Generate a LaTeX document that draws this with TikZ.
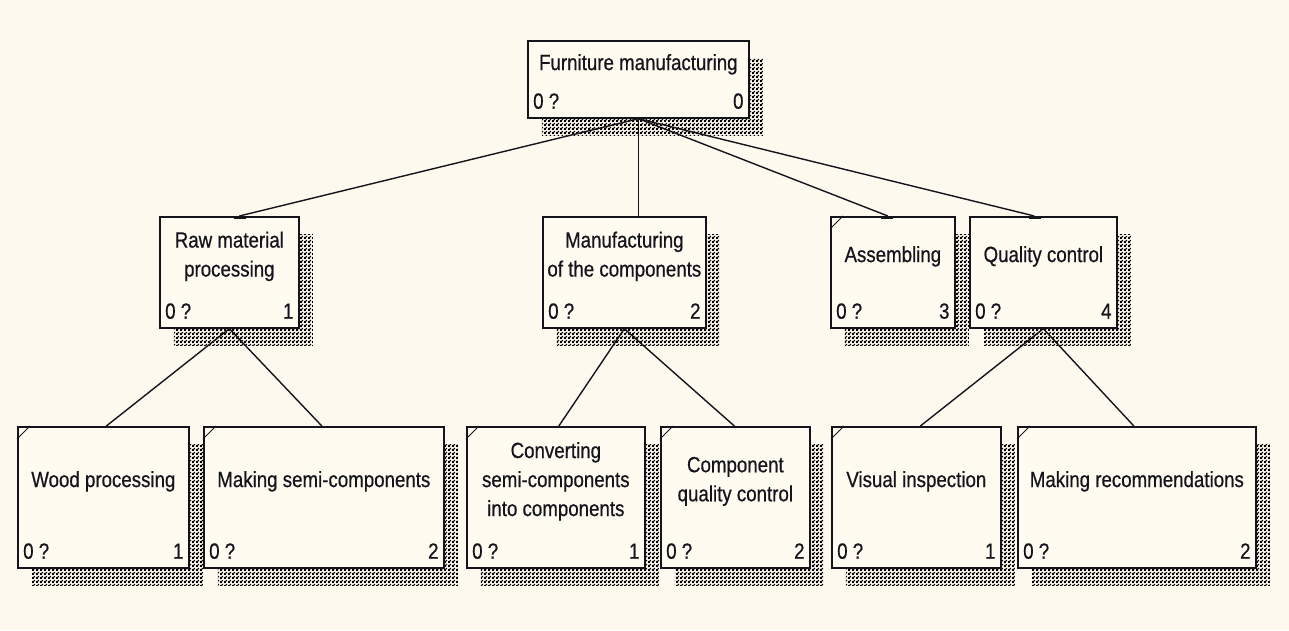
\documentclass[tikz,border=0pt]{standalone}
\usepackage{fontspec}
\usetikzlibrary{shadows,patterns.meta,calc}
\newfontfamily\ideffont[FakeStretch=0.85,FakeBold=0.6]{Liberation Sans}
\definecolor{bgc}{RGB}{253,249,238}
\definecolor{boxc}{RGB}{255,251,241}
\definecolor{inkc}{RGB}{20,20,28}
\tikzdeclarepattern{
  name=idefdots,
  type=uncolored,
  bottom left={(0pt,0pt)},
  top right={(4pt,4pt)},
  tile size={(4pt,4pt)},
  code={
    \fill (0pt,0pt) rectangle (2.4pt,2.4pt);
    \fill (2pt,2pt) rectangle (4pt,4pt);
    \fill (0pt,3.6pt) rectangle (0.4pt,4pt);
    \fill (3.6pt,0pt) rectangle (4pt,0.4pt);
  }
}
\begin{document}
\begin{tikzpicture}[x=1pt,y=-1pt,
  idefbox/.style={draw=inkc, line width=1.7pt, fill=boxc, rectangle, inner sep=0pt,
    anchor=north west,
    general shadow={shadow xshift=14pt, shadow yshift=-18pt, draw=none,
      pattern=idefdots, pattern color=black}},
  idtitle/.style={font=\ideffont\fontsize{22}{29}\selectfont, text=inkc, align=center, inner sep=0pt},
  idnum/.style={font=\ideffont\fontsize{22}{29}\selectfont, text=inkc, inner sep=0pt},
  link/.style={draw=inkc, line width=1.4pt},
  tick/.style={draw=inkc, line width=1pt},
  joinbar/.style={draw=inkc, line width=3pt}
]
\fill[bgc] (0,0) rectangle (1289,630);
\useasboundingbox (0,0) rectangle (1289,630);

% level 0
\node[idefbox, minimum width=221pt, minimum height=77pt] (root) at (527,40) {};
% level 1
\node[idefbox, minimum width=139pt, minimum height=111pt] (raw) at (159,216) {};
\node[idefbox, minimum width=163pt, minimum height=111pt] (mfg) at (542,216) {};
\node[idefbox, minimum width=124pt, minimum height=111pt] (asm) at (830,216) {};
\node[idefbox, minimum width=147pt, minimum height=111pt] (qc) at (969,216) {};
% level 2
\node[idefbox, minimum width=171pt, minimum height=141pt] (wood) at (17,426) {};
\node[idefbox, minimum width=240pt, minimum height=141pt] (semi) at (203,426) {};
\node[idefbox, minimum width=178pt, minimum height=141pt] (conv) at (466,426) {};
\node[idefbox, minimum width=149pt, minimum height=141pt] (cqc) at (660,426) {};
\node[idefbox, minimum width=169pt, minimum height=141pt] (vis) at (831,426) {};
\node[idefbox, minimum width=238pt, minimum height=141pt] (rec) at (1017,426) {};

% titles
\node[idtitle] (rootT) at ([yshift=15pt]root.center) {Furniture manufacturing};
\node[idtitle] (rawT) at ([yshift=16pt]raw.center) {Raw material\\processing};
\node[idtitle] (mfgT) at ([yshift=16pt]mfg.center) {Manufacturing\\of the components};
\node[idtitle] (asmT) at ([yshift=16pt]asm.center) {Assembling};
\node[idtitle] (qcT) at ([yshift=16pt]qc.center) {Quality control};
\node[idtitle] (woodT) at ([yshift=16pt]wood.center) {Wood processing};
\node[idtitle] (semiT) at ([yshift=16pt]semi.center) {Making semi-components};
\node[idtitle] (convT) at ([yshift=16pt]conv.center) {Converting\\semi-components\\into components};
\node[idtitle] (cqcT) at ([yshift=16pt]cqc.center) {Component\\quality control};
\node[idtitle] (visT) at ([yshift=16pt]vis.center) {Visual inspection};
\node[idtitle] (recT) at ([yshift=16pt]rec.center) {Making recommendations};

% numbers
\foreach \b/\n in {root/0,raw/1,mfg/2,asm/3,qc/4,wood/1,semi/2,conv/1,cqc/2,vis/1,rec/2}{
  \node[idnum, anchor=base west] (\b L) at ([xshift=6pt,yshift=10pt]\b.south west) {0 ?};
  \node[idnum, anchor=base east] (\b R) at ([xshift=-6pt,yshift=10pt]\b.south east) {\n};
}

% corner ticks
\foreach \b in {asm,wood,semi,conv,cqc,vis,rec}{
  \draw[tick] ([yshift=-13pt]\b.north west) -- ([xshift=13pt]\b.north west);
}

% connectors
\coordinate (rawIn) at ([xshift=10pt]raw.north);
\coordinate (asmIn) at ([xshift=-5pt]asm.north);
\coordinate (qcIn) at ([xshift=-9pt]qc.north);
\draw[link] (root.south) -- (rawIn);
\draw[link] (root.south) -- (root.south |- mfg.north);
\draw[link] (root.south) -- (asmIn);
\draw[link] (root.south) -- (qcIn);
\draw[joinbar] ([xshift=-5pt,yshift=-1.5pt]rawIn) -- ([xshift=7pt,yshift=-1.5pt]rawIn);
\draw[joinbar] ([xshift=-7pt,yshift=-1.5pt]asmIn) -- ([xshift=5pt,yshift=-1.5pt]asmIn);
\draw[joinbar] ([xshift=-5pt,yshift=-1.5pt]qcIn) -- ([xshift=7pt,yshift=-1.5pt]qcIn);
\draw[link] (raw.south) -- ([xshift=3pt]wood.north);
\draw[link] (raw.south) -- ([xshift=-2pt]semi.north);
\draw[link] (mfg.south) -- ([xshift=3pt]conv.north);
\draw[link] (mfg.south) -- ([xshift=-1pt]cqc.north);
\draw[link] (qc.south) -- ([xshift=4pt]vis.north);
\draw[link] (qc.south) -- ([xshift=-3pt]rec.north);
\end{tikzpicture}
\end{document}
